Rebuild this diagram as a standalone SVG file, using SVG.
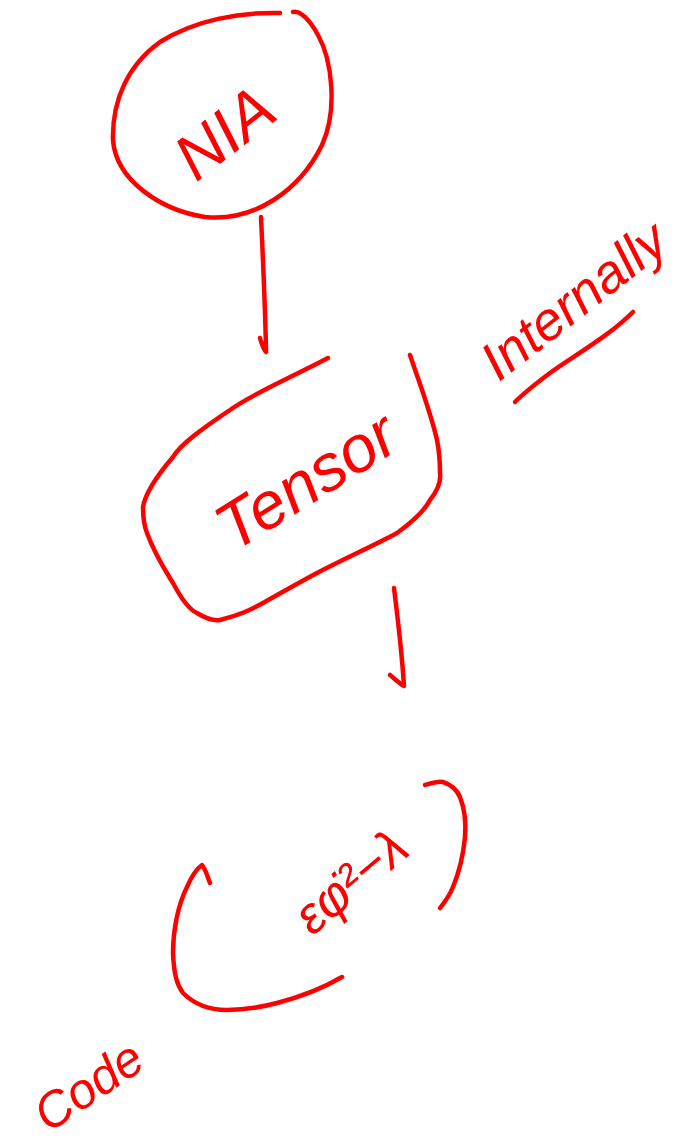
<svg xmlns="http://www.w3.org/2000/svg" width="697" height="1147" viewBox="0 0 697 1147">
<style>
.ink{fill:none;stroke:#ff0000;stroke-width:4.5;stroke-linecap:round;stroke-linejoin:round}
.txt{fill:#ff0000;font-family:"Liberation Sans","DejaVu Sans",sans-serif;font-style:italic}
</style>
<rect width="697" height="1147" fill="#ffffff"/>
<g id="node-nia">
<path class="ink" d="M280,13 C240,12 195,20 160,42 C128,65 112,100 113,140 C116,180 160,210 205,217 C255,222 300,190 322,145 C338,110 332,60 318,35 C310,20 300,10 293,12"/>
<text class="txt" x="0" y="0" font-size="64" text-anchor="middle" transform="translate(238,150) rotate(-38)">NIA</text>
</g>
<g id="node-tensor">
<path class="ink" d="M328,358 C290,378 250,395 230,410 C200,430 180,445 173,457 C155,478 145,495 143,507 C143,520 145,528 147,533 C155,555 165,570 173,583 C182,600 190,610 197,613 C205,618 212,621 220,620 C240,615 250,610 263,603 C290,588 300,582 317,573 C350,556 375,545 397,533 C415,520 425,510 430,500 C438,490 441,480 440,473 C440,460 439,450 437,440 C430,410 420,385 410,355"/>
<text class="txt" x="0" y="0" font-size="66" text-anchor="middle" transform="translate(318,500) rotate(-32)">Tensor</text>
</g>
<g id="label-internally">
<text class="txt" x="0" y="0" font-size="54" text-anchor="middle" transform="translate(585,315) rotate(-38)">Internally</text>
<path class="ink" d="M515,402 C525,392 538,382 550,373 C580,352 610,335 633,312"/>
</g>
<g id="node-code">
<path class="ink" d="M210,883 C207,875 205,868 202,865 C195,870 190,880 187,887 C178,905 173,930 173,953 C174,975 177,985 183,993 C195,1005 210,1010 227,1010 C245,1010 262,1007 277,1003 C300,997 325,987 342,977"/>
<path class="ink" d="M425,785 C432,783 438,781 443,782 C452,785 457,790 460,797 C465,810 466,825 465,837 C463,858 458,875 453,887 C449,897 444,903 440,908"/>
<text class="txt" x="0" y="0" font-size="52" text-anchor="middle" transform="translate(362,895) rotate(-40)">εφ̇²−λ</text>
<text class="txt" x="0" y="0" font-size="50" text-anchor="middle" transform="translate(98,1100) rotate(-34)">Code</text>
</g>
<g id="connectors">
<path class="ink" d="M261,217 C263,260 265,300 266,350 M260,338 C262,345 264,350 266,352"/>
<path class="ink" d="M394,588 C398,620 402,655 404,686 M390,675 C396,680 400,684 404,686"/>
</g>
</svg>
